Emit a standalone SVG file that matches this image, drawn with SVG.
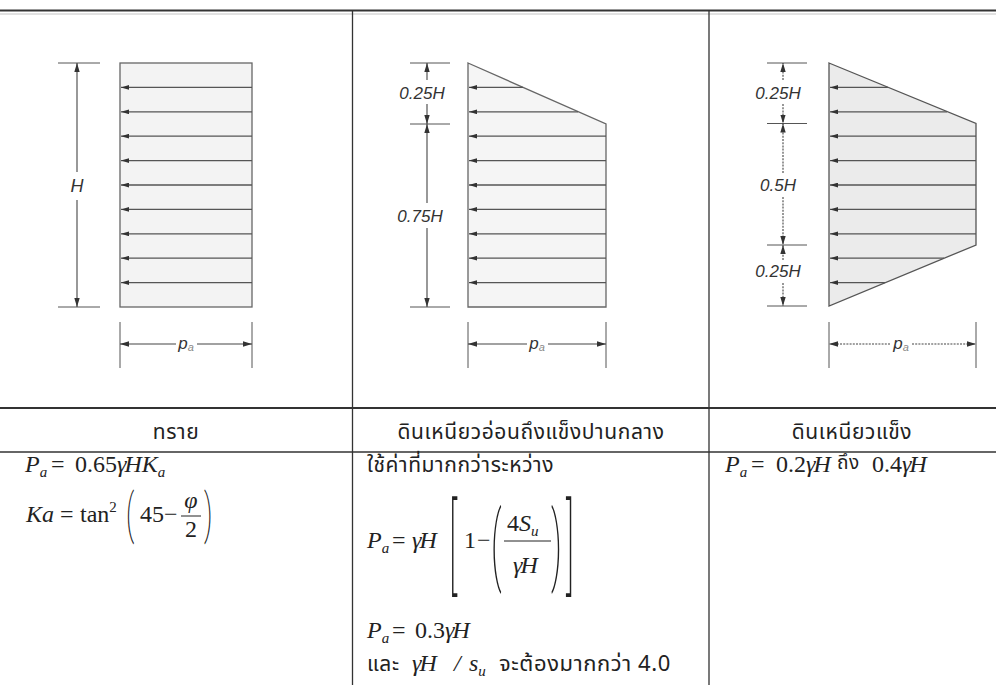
<svg xmlns="http://www.w3.org/2000/svg" width="996" height="685" viewBox="0 0 996 685">
<defs>
<style>
.tl{stroke:#333;fill:none}
.ar{stroke:#555;stroke-width:1.3;fill:none;marker-end:url(#ah)}
.ext{stroke:#555;stroke-width:1;fill:none}
.dm{stroke:#444;stroke-width:1.1;fill:none;marker-end:url(#dh)}
.dd{stroke:#444;stroke-width:1.1;fill:none;stroke-dasharray:2 1.2;marker-end:url(#dh)}
.lab{font-family:"Liberation Sans",Arial,sans-serif;font-style:italic;font-size:17px;fill:#333}
.m{font-family:"Liberation Serif","Times New Roman",serif;font-size:24px;fill:#222}
.i{font-style:italic}
.th{font-family:Tahoma,"Noto Sans Thai","Noto Sans","DejaVu Sans",sans-serif;font-size:21px;letter-spacing:0.6px;fill:#222}
.sub{font-size:15px;font-style:italic}
.bar{stroke:#222;stroke-width:1}
.dl{font-family:Roboto,Lato,Inter,sans-serif;font-weight:200;fill:#222}
</style>
<marker id="ah" viewBox="0 0 10 6" refX="10" refY="3" markerWidth="8" markerHeight="5" markerUnits="userSpaceOnUse" orient="auto"><path d="M0,0L10,3L0,6z" fill="#333"/></marker>
<marker id="dh" viewBox="0 0 10 6" refX="10" refY="3" markerWidth="9" markerHeight="6" markerUnits="userSpaceOnUse" orient="auto"><path d="M0,0L10,3L0,6z" fill="#333"/></marker>
</defs>

<g id="table-lines">
<path class="tl" stroke-width="2" d="M0,10.5H996"/>
<path stroke="#aaa" stroke-width="0.7" d="M0,14H996"/>
<path class="tl" stroke-width="1.3" d="M352.5,10V685M709,10V685"/>
<path class="tl" stroke-width="2" d="M0,408H996"/>
<path class="tl" stroke-width="1.5" d="M0,452H996"/>
</g>

<g id="sand-diagram">
<rect x="120" y="63" width="132" height="244" fill="#f3f3f3" stroke="#666" stroke-width="1.3"/>
<path class="ar" d="M252,87.4H121"/>
<path class="ar" d="M252,111.8H121"/>
<path class="ar" d="M252,136.2H121"/>
<path class="ar" d="M252,160.6H121"/>
<path class="ar" d="M252,185H121"/>
<path class="ar" d="M252,209.4H121"/>
<path class="ar" d="M252,233.8H121"/>
<path class="ar" d="M252,258.2H121"/>
<path class="ar" d="M252,282.6H121"/>
<path class="ext" d="M58,63H100M58,307H100"/>
<path class="dm" d="M77,172V63"/>
<path class="dm" d="M77,200V307"/>
<text class="lab" x="77" y="192" text-anchor="middle" style="font-size:18px">H</text>
<path class="ext" d="M120,322V368M252,322V368"/>
<path class="dm" d="M176,344H120"/>
<path class="dm" d="M197,344H252"/>
<text class="lab" x="186" y="349" text-anchor="middle">p<tspan font-size="11" dy="2" fill="#888">a</tspan></text>
</g>

<g id="soft-clay-diagram">
<polygon points="468,63 606,124 606,307 468,307" fill="#f5f5f5" stroke="#666" stroke-width="1.3"/>
<path class="ar" d="M523,87.4H469"/>
<path class="ar" d="M578,111.8H469"/>
<path class="ar" d="M606,136.2H469"/>
<path class="ar" d="M606,160.6H469"/>
<path class="ar" d="M606,185H469"/>
<path class="ar" d="M606,209.4H469"/>
<path class="ar" d="M606,233.8H469"/>
<path class="ar" d="M606,258.2H469"/>
<path class="ar" d="M606,282.6H469"/>
<path class="ext" d="M410,63H450M410,124H450M410,307H450"/>
<path class="dm" d="M427,80V63"/>
<path class="dm" d="M427,104V124"/>
<path class="dm" d="M427,203V124"/>
<path class="dm" d="M427,228V307"/>
<text class="lab" x="422" y="99" text-anchor="middle">0.25H</text>
<text class="lab" x="420" y="222" text-anchor="middle">0.75H</text>
<path class="ext" d="M468,322V368M606,322V368"/>
<path class="dm" d="M527,344H468"/>
<path class="dm" d="M548,344H606"/>
<text class="lab" x="537" y="349" text-anchor="middle">p<tspan font-size="11" dy="2" fill="#888">a</tspan></text>
</g>

<g id="stiff-clay-diagram">
<polygon points="829,63 976,123.5 976,245 829,306" fill="#ebebeb" stroke="#555" stroke-width="1.3"/>
<path class="ar" d="M888,87.4H830"/>
<path class="ar" d="M947,111.8H830"/>
<path class="ar" d="M976,136.2H830"/>
<path class="ar" d="M976,160.6H830"/>
<path class="ar" d="M976,185H830"/>
<path class="ar" d="M976,209.4H830"/>
<path class="ar" d="M976,233.8H830"/>
<path class="ar" d="M944,258.2H830"/>
<path class="ar" d="M885,282.6H830"/>
<path class="ext" d="M767,63H807M767,123.5H807M767,245H807M767,306H807"/>
<path class="dd" d="M783,80V63"/>
<path class="dd" d="M783,104V123.5"/>
<path class="dd" d="M783,173V123.5"/>
<path class="dd" d="M783,197V245"/>
<path class="dd" d="M783,260V245"/>
<path class="dd" d="M783,283V306"/>
<text class="lab" x="778" y="99" text-anchor="middle">0.25H</text>
<text class="lab" x="778" y="191" text-anchor="middle">0.5H</text>
<text class="lab" x="778" y="277" text-anchor="middle">0.25H</text>
<path class="ext" d="M829,322V368M976,322V368"/>
<path class="dd" d="M890,344H829"/>
<path class="dd" d="M912,344H976"/>
<text class="lab" x="901" y="349" text-anchor="middle">p<tspan font-size="11" dy="2" fill="#888">a</tspan></text>
</g>

<g id="headers">
<text class="th" x="176" y="439" text-anchor="middle">ทราย</text>
<text class="th" x="531" y="439" text-anchor="middle">ดินเหนียวอ่อนถึงแข็งปานกลาง</text>
<text class="th" x="852" y="439" text-anchor="middle">ดินเหนียวแข็ง</text>
</g>

<g id="sand-formula">
<text class="m" y="472"><tspan class="i" x="25">P</tspan><tspan class="sub" dy="5">a</tspan><tspan x="51" dy="-5">=</tspan><tspan x="75">0.65</tspan><tspan class="i">γ</tspan><tspan class="i" dx="-2">H</tspan><tspan class="i">K</tspan><tspan class="sub" dy="5">a</tspan></text>
<text class="m" y="522"><tspan class="i" x="26">Ka</tspan><tspan x="60">=</tspan><tspan x="80">tan</tspan><tspan font-size="15" dy="-10">2</tspan><tspan x="140" dy="10">45</tspan><tspan x="164">−</tspan></text>
<text class="dl" transform="translate(126,532) scale(0.5,1)" style="font-size:54px">(</text>
<text class="m i" x="191" y="508" text-anchor="middle">φ</text>
<path class="bar" d="M181,516H201"/>
<text class="m" x="191" y="537" text-anchor="middle">2</text>
<text class="dl" transform="translate(204,532) scale(0.5,1)" style="font-size:54px">)</text>
</g>

<g id="soft-clay-formula">
<text class="th" x="367" y="472">ใช้ค่าที่มากกว่าระหว่าง</text>
<text class="m" y="548"><tspan class="i" x="367">P</tspan><tspan class="sub" dy="5">a</tspan><tspan x="392" dy="-5">=</tspan><tspan class="i" x="412">γ</tspan><tspan class="i" dx="-2">H</tspan><tspan x="464">1</tspan><tspan x="477">−</tspan></text>
<text class="dl" transform="translate(449,581) scale(0.35,1)" style="font-size:103px">[</text>
<text class="dl" transform="translate(491,574) scale(0.4,1)" style="font-size:87px">(</text>
<text class="m" y="531"><tspan x="507">4</tspan><tspan class="i">S</tspan><tspan class="sub" dy="5">u</tspan></text>
<path class="bar" d="M504,541H551"/>
<text class="m" y="573"><tspan class="i" x="513">γ</tspan><tspan class="i" dx="-2">H</tspan></text>
<text class="dl" transform="translate(551,574) scale(0.4,1)" style="font-size:87px">)</text>
<text class="dl" transform="translate(566,581) scale(0.35,1)" style="font-size:103px">]</text>
<text class="m" y="638"><tspan class="i" x="367">P</tspan><tspan class="sub" dy="5">a</tspan><tspan x="392" dy="-5">=</tspan><tspan x="415">0.3</tspan><tspan class="i">γ</tspan><tspan class="i" dx="-2">H</tspan></text>
<text class="th" x="367" y="671">และ</text>
<text class="m i" y="671"><tspan x="412">γ</tspan><tspan dx="-2">H</tspan><tspan x="454">/</tspan><tspan x="469">s</tspan><tspan class="sub" dy="5">u</tspan></text>
<text class="th" x="499" y="671" style="font-size:22px">จะต้องมากกว่า 4.0</text>
</g>

<g id="stiff-clay-formula">
<text class="m" y="472"><tspan class="i" x="725">P</tspan><tspan class="sub" dy="5">a</tspan><tspan x="751" dy="-5">=</tspan><tspan x="776">0.2</tspan><tspan class="i">γ</tspan><tspan class="i" dx="-2">H</tspan></text>
<text class="th" x="837" y="469" style="font-size:19px">ถึง</text>
<text class="m" y="472"><tspan x="872">0.4</tspan><tspan class="i">γ</tspan><tspan class="i" dx="-2">H</tspan></text>
</g>
</svg>
